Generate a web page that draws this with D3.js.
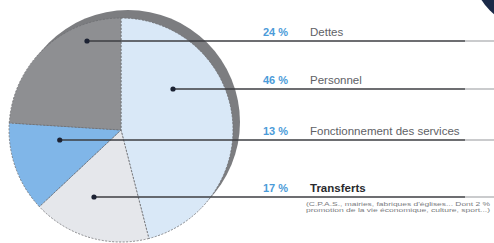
<!DOCTYPE html>
<html>
<head>
<meta charset="utf-8">
<script src="https://cdn.jsdelivr.net/npm/d3@7"></script>
<style>
  html, body { margin: 0; padding: 0; background: #fff; }
  svg { display: block; }
  text { font-family: "Liberation Sans", Arial, sans-serif; }
</style>
</head>
<body>
<div id="chart"></div>
<script>
// budget shares, clockwise from 12 o'clock
const categories = ["Personnel", "Transferts", "Fonctionnement des services", "Dettes"];
const values = [46, 17, 13, 24];
const pctLabels = ["46 %", "17 %", "13 %", "24 %"];
// legend rows, top to bottom
const legendOrder = ["Dettes", "Personnel", "Fonctionnement des services", "Transferts"];
const footnote = [
  "(C.P.A.S., mairies, fabriques d'églises... Dont 2 %",
  "promotion de la vie économique, culture, sport...)"
];

const width = 494, height = 243;
const cx = 121, cy = 130, r = 112;
const rowY = [41, 89, 140, 197];

const colors = {
  "Personnel": "#d9e8f7",
  "Transferts": "#e5e7eb",
  "Fonctionnement des services": "#80b6e8",
  "Dettes": "#8e8f92"
};

const svg = d3.select('#chart').append('svg')
  .attr('width', width)
  .attr('height', height);

// decorative dark corner
svg.append('circle')
  .attr('cx', 530).attr('cy', -30).attr('r', 57)
  .attr('fill', '#1b2a48');

// grey shadow ring behind the pie
svg.append('circle')
  .attr('cx', cx + 7).attr('cy', cy - 8).attr('r', r)
  .attr('fill', '#7c7d80');

const pie = d3.pie().sort(null).value(d => d.value);
const arcs = pie(categories.map((c, i) => ({ name: c, value: values[i], pct: pctLabels[i] })));
const arc = d3.arc().innerRadius(0).outerRadius(r);

const g = svg.append('g').attr('transform', `translate(${cx},${cy})`);

g.selectAll('path.slice')
  .data(arcs)
  .enter()
  .append('path')
  .attr('class', 'slice')
  .attr('d', arc)
  .attr('fill', d => colors[d.data.name])
  .attr('stroke', '#6d6e72')
  .attr('stroke-width', 0.8)
  .attr('stroke-dasharray', '2,1.5');

// find the middle of a slice along a horizontal line
function dotX(d, y) {
  const dy = y - cy;
  let xs = [];
  for (let x = cx - r; x <= cx + r; x += 0.5) {
    const dx = x - cx;
    if (dx * dx + dy * dy > r * r) continue;
    let a = Math.atan2(dx, -dy);
    if (a < 0) a += 2 * Math.PI;
    if (a >= d.startAngle && a <= d.endAngle) xs.push(x);
  }
  return (d3.min(xs) + d3.max(xs)) / 2;
}

const rows = legendOrder.map((name, i) => {
  const d = arcs.find(a => a.data.name === name);
  return { d: d, y: rowY[i], x: dotX(d, rowY[i]) };
});

// leader lines
svg.selectAll('line.lead')
  .data(rows)
  .enter()
  .append('line')
  .attr('x1', d => d.x).attr('x2', 465)
  .attr('y1', d => d.y).attr('y2', d => d.y)
  .attr('stroke', '#3d3e42')
  .attr('stroke-width', 1.4);

svg.selectAll('line.fade')
  .data(rows)
  .enter()
  .append('line')
  .attr('x1', 465).attr('x2', width)
  .attr('y1', d => d.y).attr('y2', d => d.y)
  .attr('stroke', '#b4b5b8')
  .attr('stroke-width', 1.4);

svg.selectAll('circle.dot')
  .data(rows)
  .enter()
  .append('circle')
  .attr('cx', d => d.x).attr('cy', d => d.y)
  .attr('r', 2.6)
  .attr('fill', '#1c2233');

// labels
svg.selectAll('text.pct')
  .data(rows)
  .enter()
  .append('text')
  .attr('x', 263).attr('y', d => d.y - 5)
  .attr('font-size', 11)
  .attr('font-weight', 'bold')
  .attr('fill', '#4b9bd9')
  .text(d => d.d.data.pct);

svg.selectAll('text.name')
  .data(rows)
  .enter()
  .append('text')
  .attr('x', 310).attr('y', d => d.y - 5)
  .attr('font-size', 11.5)
  .attr('font-weight', d => d.d.data.name === "Transferts" ? 'bold' : 'normal')
  .attr('fill', d => d.d.data.name === "Transferts" ? '#2a2a2e' : '#606166')
  .text(d => d.d.data.name);

svg.selectAll('text.note')
  .data(footnote)
  .enter()
  .append('text')
  .attr('x', 306).attr('y', (d, i) => 206 + i * 6)
  .attr('font-size', 6)
  .attr('textLength', 184)
  .attr('lengthAdjust', 'spacingAndGlyphs')
  .attr('fill', '#7a7b80')
  .text(d => d);
</script>
</body>
</html>
